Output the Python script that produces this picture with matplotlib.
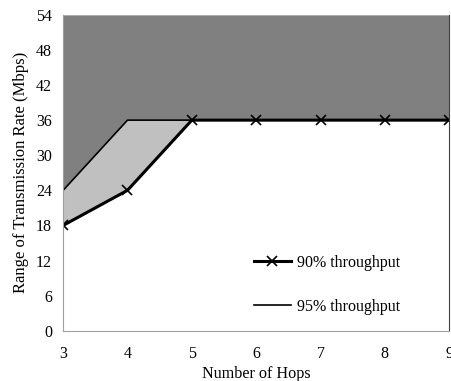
import matplotlib
matplotlib.use("Agg")
import matplotlib.pyplot as plt

hops = [3, 4, 5, 6, 7, 8, 9]
thr90 = [18, 24, 36, 36, 36, 36, 36]
thr95 = [24, 36, 36, 36, 36, 36, 36]
yticks = [0, 6, 12, 18, 24, 30, 36, 42, 48, 54]

plt.rcParams['font.family'] = ['Liberation Serif', 'DejaVu Serif']
fig = plt.figure(figsize=(4.51, 3.81), dpi=100)
ax = fig.add_axes([0.14, 0.132, 0.856, 0.829])

ax.fill_between(hops, thr95, [54] * len(hops), color='#808080', lw=0)
ax.fill_between(hops, thr90, thr95, color='#c0c0c0', lw=0)
l1, = ax.plot(hops, thr90, color='black', lw=2.2, marker='x', ms=7.5, mew=1.2)
l2, = ax.plot(hops, thr95, color='black', lw=1.2)

ax.set_xlim(3, 9)
ax.set_ylim(0, 54)
ax.set_xticks(hops)
ax.set_yticks(yticks)
ax.tick_params(length=0, labelsize=11.5)
ax.tick_params(axis='x', pad=11)
ax.tick_params(axis='y', pad=8)
for s in ['left', 'bottom']:
    ax.spines[s].set_color('#a0a0a0')
ax.spines['top'].set_visible(False)
ax.spines['right'].set_color('#404040')
ax.set_xlabel('Number of Hops', fontsize=11.6, labelpad=3)
ax.set_ylabel('Range of Transmission Rate (Mbps)', fontsize=12, labelpad=5)

ax.legend([l1, l2], ['90% throughput', '95% throughput'], frameon=False,
          loc='lower right', bbox_to_anchor=(0.91, 0.005), fontsize=11.5,
          handlelength=2.3, handletextpad=0.4, labelspacing=1.75)

fig.savefig('out.png', dpi=100)
